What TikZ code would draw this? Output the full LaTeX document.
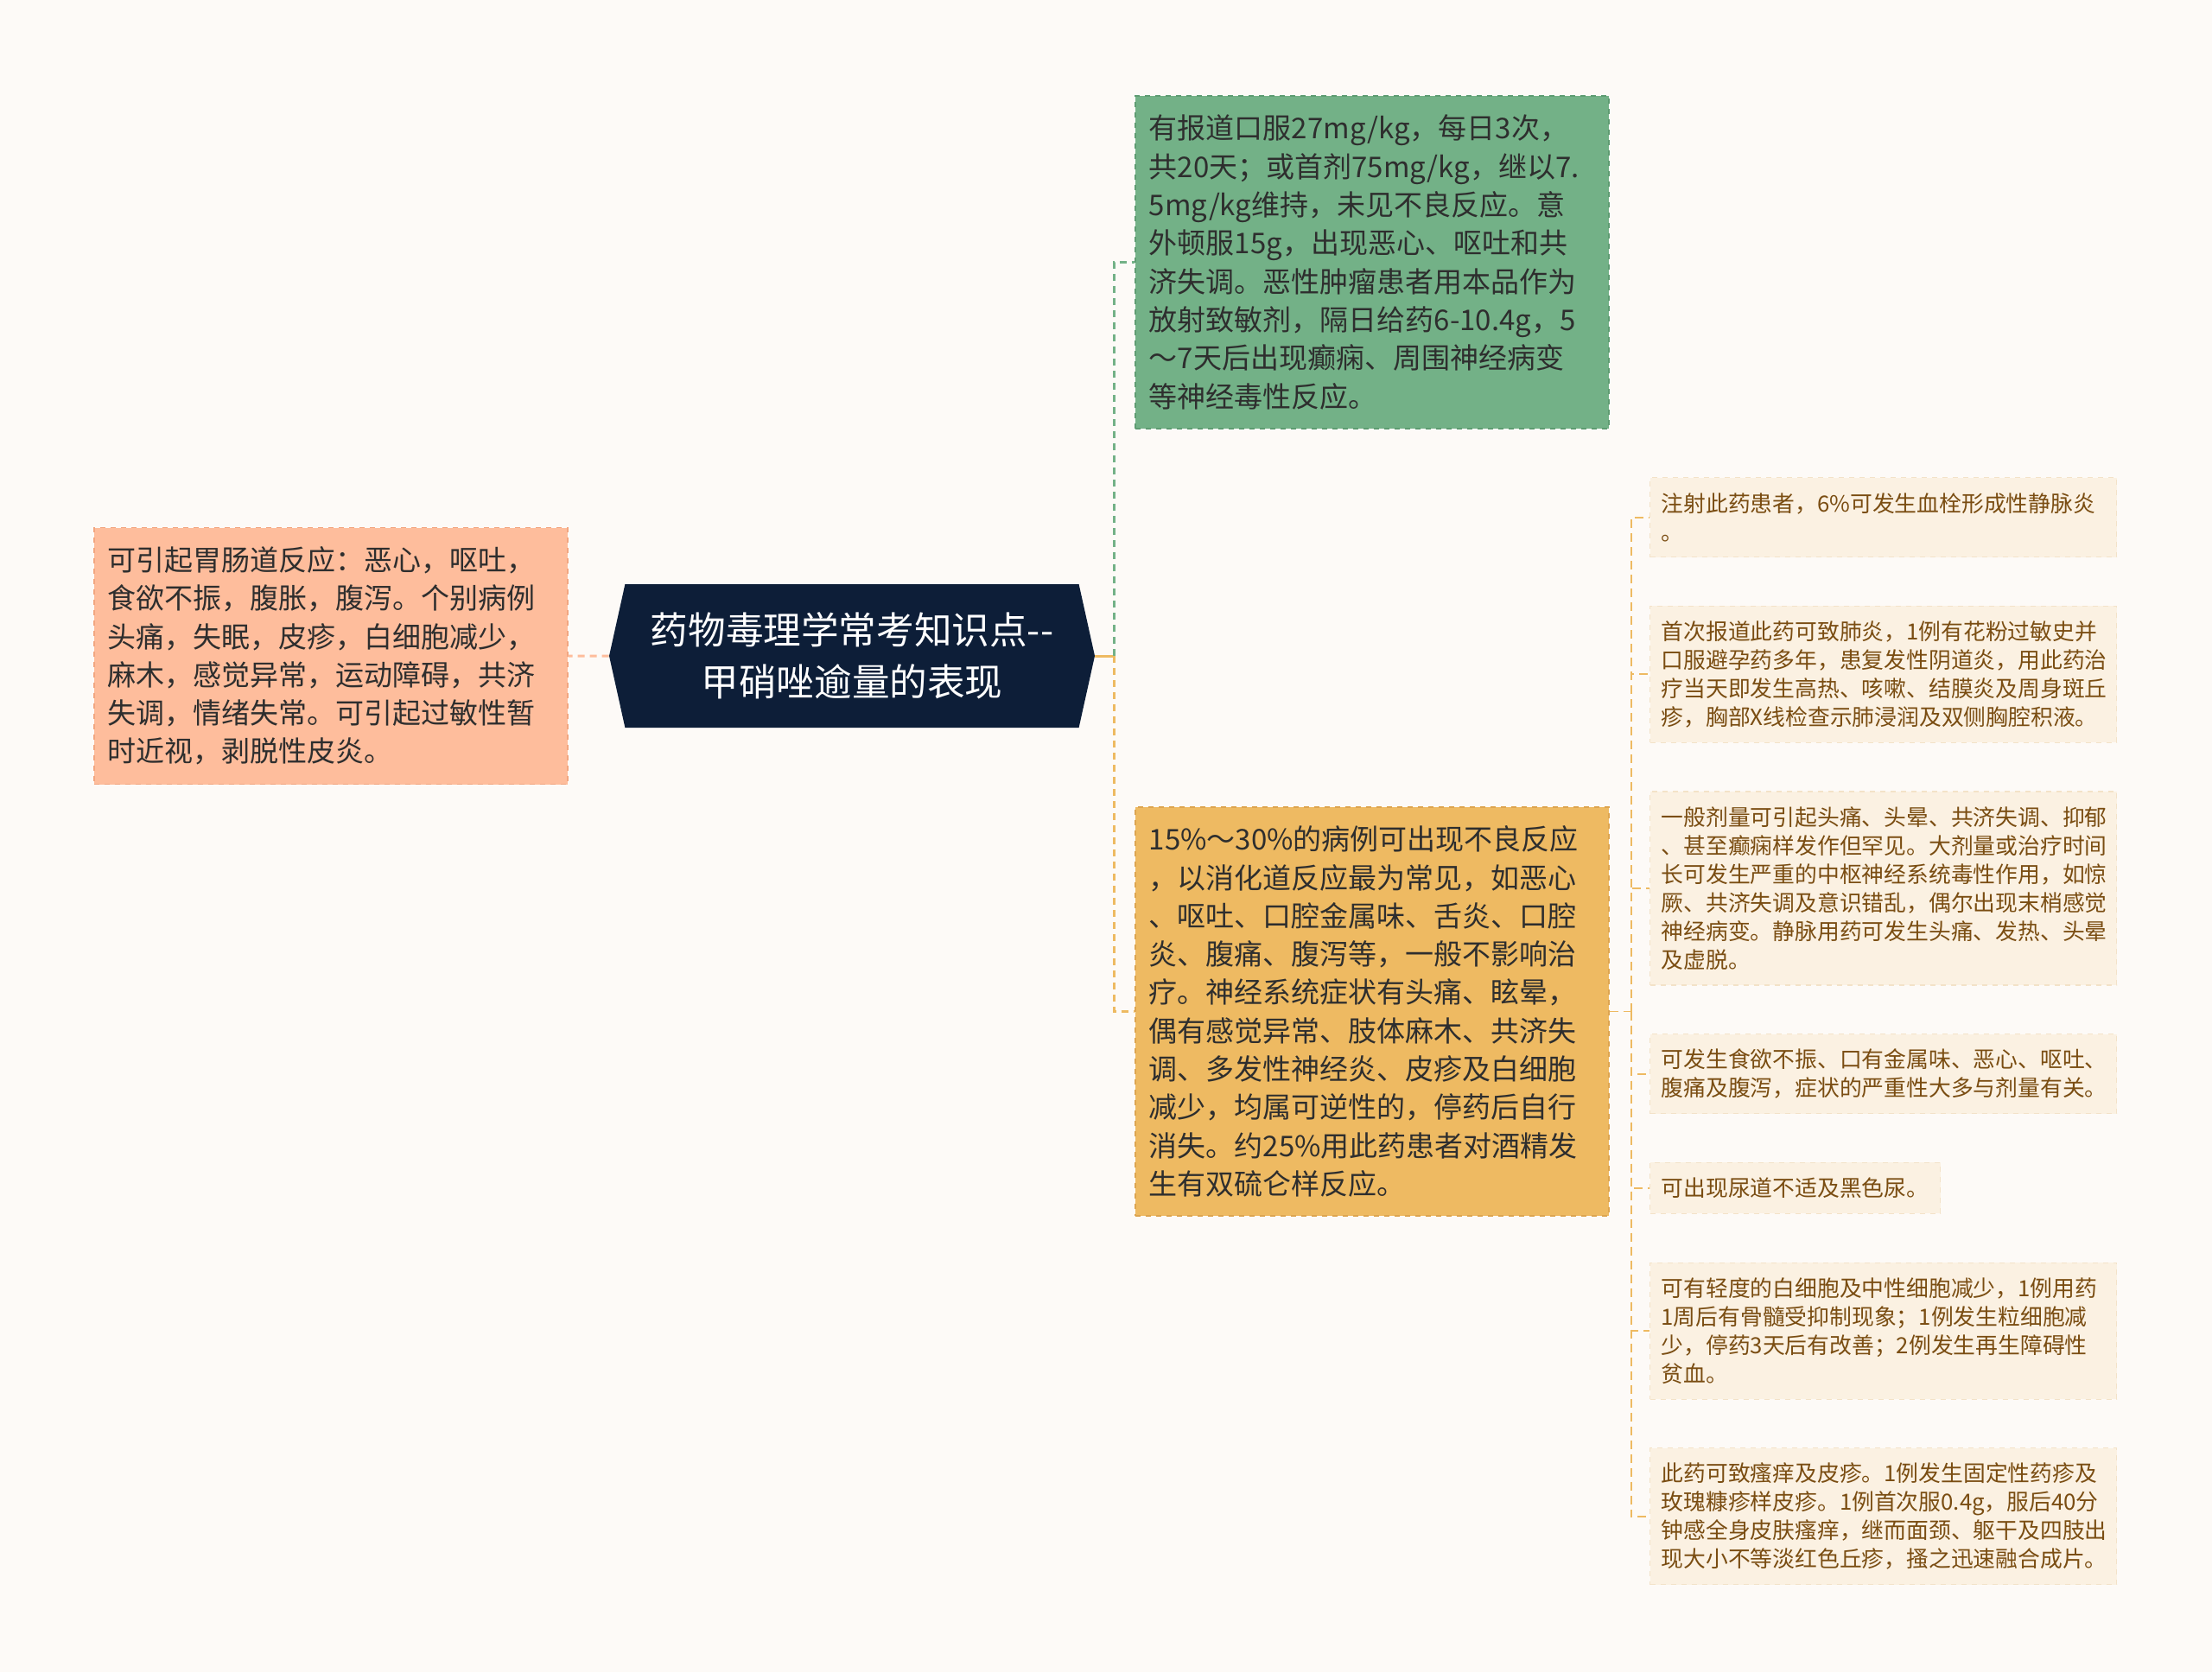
\documentclass[tikz,border=0pt]{standalone}
\usepackage{fontspec}
\setmainfont{Noto Sans CJK SC}
\usepackage{tikz}
\usetikzlibrary{positioning}
\usetikzlibrary{shapes.symbols}
\exhyphenpenalty=10000
\hyphenpenalty=10000
\definecolor{paper}{HTML}{FDFAF7}
\definecolor{navy}{HTML}{0D1E38}
\definecolor{peach}{HTML}{FEBD9C}
\definecolor{peachdark}{HTML}{F2A680}
\definecolor{sage}{HTML}{73B187}
\definecolor{sagedark}{HTML}{5E9C72}
\definecolor{honey}{HTML}{EEBA62}
\definecolor{honeydark}{HTML}{DDA550}
\definecolor{cream}{HTML}{FBF1E2}
\definecolor{creamdark}{HTML}{F3E2C8}
\definecolor{inkbrown}{HTML}{7A4D12}
\definecolor{ink}{HTML}{2E2E2E}
\tikzstyle{topic} = [signal, signal to=west and east, signal pointer angle=155,
    fill=navy, text=white, minimum width=281pt, minimum height=83pt, inner sep=0pt,
    align=center, font=\fontsize{21.8}{30}\selectfont]
\tikzstyle{block} = [rectangle, draw, dashed, line width=0.8pt, text width=258pt,
    align=left, inner xsep=8pt, inner ysep=0pt, text=ink, font=\fontsize{16.5}{22.15}\selectfont]
\tikzstyle{leaf} = [rectangle, draw=creamdark, dashed, line width=0.6pt, fill=cream,
    text width=257pt, align=left, inner xsep=6.5pt, inner ysep=0pt, text=inkbrown,
    font=\fontsize{12.9}{16.5}\selectfont]
\tikzstyle{line} = [draw, line width=1.5pt, dash pattern=on 4pt off 3pt]
\tikzstyle{thinline} = [draw=honey, line width=0.9pt, dash pattern=on 5pt off 3pt]
\begin{document}
\begin{tikzpicture}[node distance=27.75pt]
    \fill[paper] (0,0) rectangle (1280pt,-967.5pt);
    \useasboundingbox (0,0) rectangle (1280pt,-967.5pt);
    % nodes
    \node [topic] (root) at (493pt,-379.5pt) {药物毒理学常考知识点-{}-\\甲硝唑逾量的表现};
    \node [block, fill=peach, draw=peachdark, minimum height=148.5pt, left=23.5pt of root] (gut) {可引起胃肠道反应：恶心，呕吐，\\食欲不振，腹胀，腹泻。个别病例\\头痛，失眠，皮疹，白细胞减少，\\麻木，感觉异常，运动障碍，共济\\失调，情绪失常。可引起过敏性暂\\时近视，剥脱性皮炎。};
    \node [block, fill=sage, draw=sagedark, minimum height=192.5pt, anchor=west] (dose) at (656.5pt,-151.75pt) {有报道口服27mg/kg，每日3次，\\共20天；或首剂75mg/kg，继以7.\\5mg/kg维持，未见不良反应。意\\外顿服15g，出现恶心、呕吐和共\\济失调。恶性肿瘤患者用本品作为\\放射致敏剂，隔日给药6-10.4g，5\\～7天后出现癫痫、周围神经病变\\等神经毒性反应。};
    \node [block, fill=honey, draw=honeydark, minimum height=236.5pt, anchor=west] (react) at (656.5pt,-585.25pt) {15\%～30\%的病例可出现不良反应\\，以消化道反应最为常见，如恶心\\、呕吐、口腔金属味、舌炎、口腔\\炎、腹痛、腹泻等，一般不影响治\\疗。神经系统症状有头痛、眩晕，\\偶有感觉异常、肢体麻木、共济失\\调、多发性神经炎、皮疹及白细胞\\减少，均属可逆性的，停药后自行\\消失。约25\%用此药患者对酒精发\\生有双硫仑样反应。};
    \node [leaf, minimum height=46pt, anchor=north west] (vein) at (954.5pt,-276pt) {注射此药患者，6\%可发生血栓形成性静脉炎\\。};
    \node [leaf, minimum height=79pt, below=of vein.south west, anchor=north west] (lung) {首次报道此药可致肺炎，1例有花粉过敏史并\\口服避孕药多年，患复发性阴道炎，用此药治\\疗当天即发生高热、咳嗽、结膜炎及周身斑丘\\疹，胸部X线检查示肺浸润及双侧胸腔积液。};
    \node [leaf, minimum height=112pt, below=of lung.south west, anchor=north west] (nerve) {一般剂量可引起头痛、头晕、共济失调、抑郁\\、甚至癫痫样发作但罕见。大剂量或治疗时间\\长可发生严重的中枢神经系统毒性作用，如惊\\厥、共济失调及意识错乱，偶尔出现末梢感觉\\神经病变。静脉用药可发生头痛、发热、头晕\\及虚脱。};
    \node [leaf, minimum height=46pt, below=of nerve.south west, anchor=north west] (stomach) {可发生食欲不振、口有金属味、恶心、呕吐、\\腹痛及腹泻，症状的严重性大多与剂量有关。};
    \node [leaf, text width=155pt, minimum height=29.5pt, below=of stomach.south west, anchor=north west] (urine) {可出现尿道不适及黑色尿。};
    \node [leaf, minimum height=79pt, below=of urine.south west, anchor=north west] (blood) {可有轻度的白细胞及中性细胞减少，1例用药\\1周后有骨髓受抑制现象；1例发生粒细胞减\\少，停药3天后有改善；2例发生再生障碍性\\贫血。};
    \node [leaf, minimum height=79pt, below=of blood.south west, anchor=north west] (skin) {此药可致瘙痒及皮疹。1例发生固定性药疹及\\玫瑰糠疹样皮疹。1例首次服0.4g，服后40分\\钟感全身皮肤瘙痒，继而面颈、躯干及四肢出\\现大小不等淡红色丘疹，搔之迅速融合成片。};
    \coordinate [right=11pt of root] (hub);
    \coordinate [right=12.5pt of react] (fork);
    % edges
    \path [line, draw=peach] (root) -- (gut);
    \draw [honey, line width=1.5pt] (root.east) -- (hub);
    \path [line, draw=sage] (hub) |- (dose);
    \path [line, draw=honey] (hub) |- (react);
    \path [thinline] (react) -- (fork);
    \foreach \leafnode in {vein,lung,nerve,stomach,urine,blood,skin}
        \path [thinline] (fork) |- (\leafnode);
\end{tikzpicture}
\end{document}
